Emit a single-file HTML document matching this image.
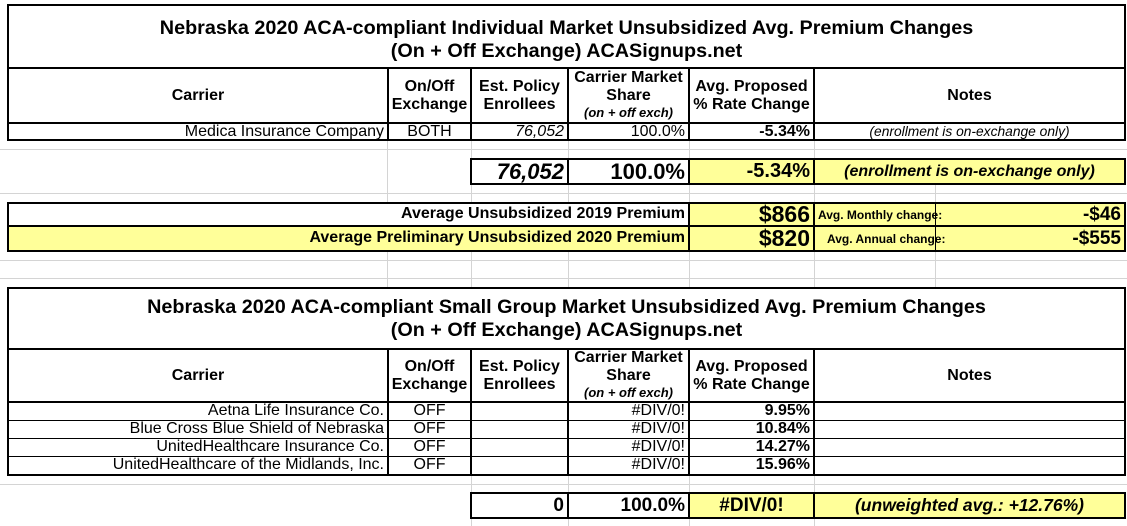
<!DOCTYPE html><html><head><style>
body{margin:0;width:1127px;height:526px;background:#fff;position:relative;overflow:hidden;font-family:"Liberation Sans",Arial,sans-serif;color:#000}
div{position:absolute;box-sizing:border-box}
.g{background:#d4d4d4}
.b{border:2px solid #000}
.t{font-weight:bold;font-size:19.8px;text-align:center;line-height:23px;white-space:nowrap}
.h{font-weight:bold;font-size:16px;text-align:center;line-height:18px;display:flex;align-items:center;justify-content:center;flex-direction:column;white-space:nowrap}
.c{font-size:16px;line-height:18px;white-space:nowrap;overflow:hidden}
.y{background:#ffff99}
.r{text-align:right;padding-right:3px}
.m{text-align:center}
.bd{font-weight:bold}
.i{font-style:italic}
</style></head><body>
<div class="g" style="left:0;top:149px;width:1127px;height:1px"></div>
<div class="g" style="left:0;top:193px;width:1127px;height:1px"></div>
<div class="g" style="left:0;top:260px;width:1127px;height:1px"></div>
<div class="g" style="left:0;top:278px;width:1127px;height:1px"></div>
<div class="g" style="left:0;top:484px;width:1127px;height:1px"></div>
<div class="g" style="left:387px;top:140px;width:1px;height:148px"></div>
<div class="g" style="left:471px;top:140px;width:1px;height:148px"></div>
<div class="g" style="left:568px;top:140px;width:1px;height:148px"></div>
<div class="g" style="left:689px;top:140px;width:1px;height:148px"></div>
<div class="g" style="left:814px;top:140px;width:1px;height:148px"></div>
<div class="g" style="left:935px;top:184px;width:1px;height:104px"></div>
<div class="g" style="left:471px;top:475px;width:1px;height:51px"></div>
<div class="g" style="left:568px;top:475px;width:1px;height:51px"></div>
<div class="g" style="left:689px;top:475px;width:1px;height:51px"></div>
<div class="g" style="left:814px;top:475px;width:1px;height:51px"></div>

<div class="b t" style="left:7px;top:4px;width:1119px;height:65px;padding-top:11px;background:#fff">Nebraska 2020 ACA-compliant Individual Market Unsubsidized Avg. Premium Changes<br>(On + Off Exchange) ACASignups.net</div>
<div class="b" style="left:7px;top:67px;width:1119px;height:74px;background:#fff"></div>
<div style="left:7px;top:122px;width:1119px;height:2px;background:#000"></div>
<div style="left:387px;top:67px;width:2px;height:74px;background:#000"></div>
<div style="left:470px;top:67px;width:2px;height:74px;background:#000"></div>
<div style="left:567px;top:67px;width:2px;height:74px;background:#000"></div>
<div style="left:688px;top:67px;width:2px;height:74px;background:#000"></div>
<div style="left:813px;top:67px;width:2px;height:74px;background:#000"></div>
<div class="h" style="left:9px;top:69px;width:378px;height:53px">Carrier</div>
<div class="h" style="left:389px;top:69px;width:81px;height:53px">On/Off<br>Exchange</div>
<div class="h" style="left:472px;top:69px;width:95px;height:53px">Est. Policy<br>Enrollees</div>
<div class="h" style="left:569px;top:67px;width:119px;height:55px">Carrier Market<br>Share<span style="font-style:italic;font-size:13px;line-height:16px">(on + off exch)</span></div>
<div class="h" style="left:690px;top:69px;width:123px;height:53px">Avg. Proposed<br>% Rate Change</div>
<div class="h" style="left:815px;top:69px;width:309px;height:53px">Notes</div>
<div class="c r" style="left:9px;top:123px;width:378px">Medica Insurance Company</div>
<div class="c m" style="left:389px;top:123px;width:81px">BOTH</div>
<div class="c r i" style="left:472px;top:123px;width:95px">76,052</div>
<div class="c r" style="left:569px;top:123px;width:119px">100.0%</div>
<div class="c r bd" style="left:690px;top:123px;width:123px">-5.34%</div>
<div class="c m i" style="left:815px;top:123px;width:309px;font-size:13.8px">(enrollment is on-exchange only)</div>

<div class="b" style="left:470px;top:158px;width:656px;height:27px;background:#fff"></div>
<div class="y" style="left:690px;top:160px;width:434px;height:23px"></div>
<div style="left:567px;top:158px;width:2px;height:27px;background:#000"></div>
<div style="left:688px;top:158px;width:2px;height:27px;background:#000"></div>
<div style="left:813px;top:158px;width:2px;height:27px;background:#000"></div>
<div class="c r bd i" style="left:472px;top:160px;width:95px;font-size:22px;line-height:23px">76,052</div>
<div class="c r bd" style="left:569px;top:160px;width:119px;font-size:22px;line-height:23px">100.0%</div>
<div class="c r bd" style="left:690px;top:160px;width:123px;font-size:20px;line-height:23px">-5.34%</div>
<div class="c m bd i" style="left:815px;top:160px;width:309px;font-size:16px;line-height:23px">(enrollment is on-exchange only)</div>

<div class="b" style="left:7px;top:202px;width:1119px;height:50px;background:#fff"></div>
<div class="y" style="left:9px;top:227px;width:1115px;height:23px"></div>
<div class="y" style="left:690px;top:204px;width:434px;height:23px"></div>
<div style="left:7px;top:225px;width:1119px;height:2px;background:#000"></div>
<div style="left:688px;top:202px;width:2px;height:50px;background:#000"></div>
<div style="left:813px;top:202px;width:2px;height:50px;background:#000"></div>
<div style="left:935px;top:202px;width:1px;height:50px;background:#000"></div>
<div class="c r bd" style="left:9px;top:205px;width:679px">Average Unsubsidized 2019 Premium</div>
<div class="c r bd" style="left:9px;top:229px;width:679px">Average Preliminary Unsubsidized 2020 Premium</div>
<div class="c r bd" style="left:690px;top:203px;width:123px;font-size:23px;line-height:23px">$866</div>
<div class="c r bd" style="left:690px;top:227px;width:123px;font-size:23px;line-height:23px">$820</div>
<div class="c bd" style="left:818px;top:206px;font-size:12px">Avg. Monthly change:</div>
<div class="c bd" style="left:827px;top:230px;font-size:12px">Avg. Annual change:</div>
<div class="c r bd" style="left:936px;top:204px;width:188px;font-size:19px;line-height:21px">-$46</div>
<div class="c r bd" style="left:936px;top:228px;width:188px;font-size:19px;line-height:21px">-$555</div>

<div class="b t" style="left:7px;top:287px;width:1119px;height:63px;padding-top:7px;background:#fff">Nebraska 2020 ACA-compliant Small Group Market Unsubsidized Avg. Premium Changes<br>(On + Off Exchange) ACASignups.net</div>
<div class="b" style="left:7px;top:348px;width:1119px;height:128px;background:#fff"></div>
<div style="left:7px;top:401px;width:1119px;height:2px;background:#000"></div>
<div style="left:387px;top:348px;width:2px;height:128px;background:#000"></div>
<div style="left:470px;top:348px;width:2px;height:128px;background:#000"></div>
<div style="left:567px;top:348px;width:2px;height:128px;background:#000"></div>
<div style="left:688px;top:348px;width:2px;height:128px;background:#000"></div>
<div style="left:813px;top:348px;width:2px;height:128px;background:#000"></div>
<div style="left:9px;top:420px;width:1115px;height:1px;background:#000"></div>
<div style="left:9px;top:438px;width:1115px;height:1px;background:#000"></div>
<div style="left:9px;top:456px;width:1115px;height:1px;background:#000"></div>
<div class="h" style="left:9px;top:350px;width:378px;height:51px">Carrier</div>
<div class="h" style="left:389px;top:350px;width:81px;height:51px">On/Off<br>Exchange</div>
<div class="h" style="left:472px;top:350px;width:95px;height:51px">Est. Policy<br>Enrollees</div>
<div class="h" style="left:569px;top:348px;width:119px;height:54px">Carrier Market<br>Share<span style="font-style:italic;font-size:13px;line-height:16px">(on + off exch)</span></div>
<div class="h" style="left:690px;top:350px;width:123px;height:51px">Avg. Proposed<br>% Rate Change</div>
<div class="h" style="left:815px;top:350px;width:309px;height:51px">Notes</div>

<div class="c r" style="left:9px;top:402px;width:378px">Aetna Life Insurance Co.</div>
<div class="c r" style="left:9px;top:420px;width:378px">Blue Cross Blue Shield of Nebraska</div>
<div class="c r" style="left:9px;top:438px;width:378px">UnitedHealthcare Insurance Co.</div>
<div class="c r" style="left:9px;top:456px;width:378px">UnitedHealthcare of the Midlands, Inc.</div>
<div class="c m" style="left:389px;top:402px;width:81px">OFF</div>
<div class="c m" style="left:389px;top:420px;width:81px">OFF</div>
<div class="c m" style="left:389px;top:438px;width:81px">OFF</div>
<div class="c m" style="left:389px;top:456px;width:81px">OFF</div>
<div class="c r" style="left:569px;top:402px;width:119px">#DIV/0!</div>
<div class="c r" style="left:569px;top:420px;width:119px">#DIV/0!</div>
<div class="c r" style="left:569px;top:438px;width:119px">#DIV/0!</div>
<div class="c r" style="left:569px;top:456px;width:119px">#DIV/0!</div>
<div class="c r bd" style="left:690px;top:402px;width:123px">9.95%</div>
<div class="c r bd" style="left:690px;top:420px;width:123px">10.84%</div>
<div class="c r bd" style="left:690px;top:438px;width:123px">14.27%</div>
<div class="c r bd" style="left:690px;top:456px;width:123px">15.96%</div>

<div class="b" style="left:470px;top:492px;width:656px;height:27px;background:#fff"></div>
<div class="y" style="left:690px;top:494px;width:434px;height:23px"></div>
<div style="left:567px;top:492px;width:2px;height:27px;background:#000"></div>
<div style="left:688px;top:492px;width:2px;height:27px;background:#000"></div>
<div style="left:813px;top:492px;width:2px;height:27px;background:#000"></div>
<div class="c r bd" style="left:472px;top:494px;width:95px;font-size:19px;line-height:23px">0</div>
<div class="c r bd" style="left:569px;top:494px;width:119px;font-size:19px;line-height:23px">100.0%</div>
<div class="c m bd" style="left:690px;top:494px;width:123px;font-size:19px;line-height:23px">#DIV/0!</div>
<div class="c m bd i" style="left:815px;top:494px;width:309px;font-size:17.5px;line-height:23px">(unweighted avg.: +12.76%)</div>
</body></html>
